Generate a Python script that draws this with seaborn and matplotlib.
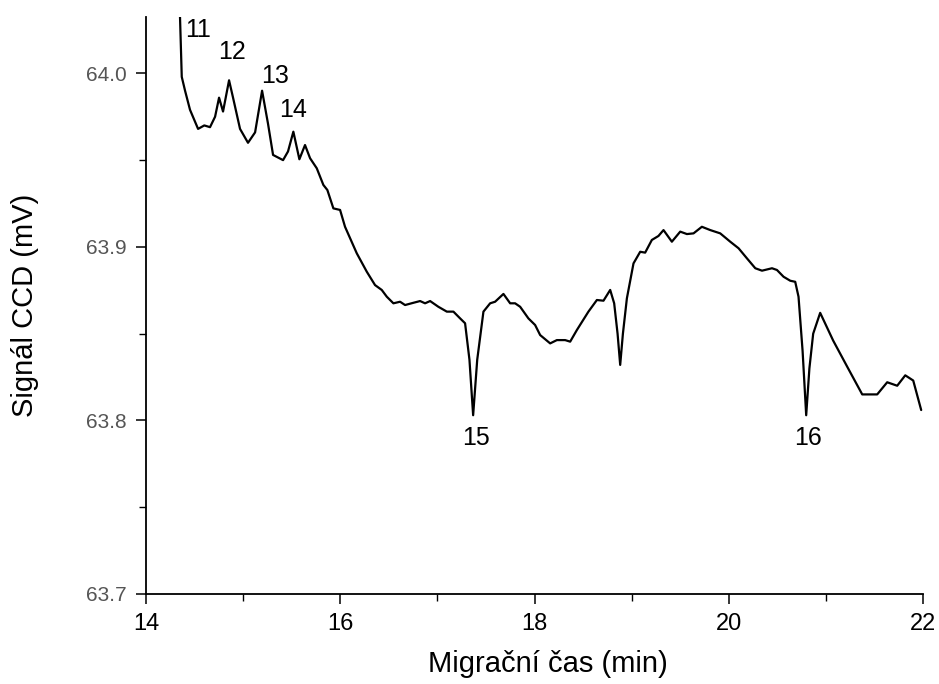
import matplotlib
matplotlib.use("Agg")
import matplotlib.pyplot as plt
import seaborn as sns
import pandas as pd
from matplotlib.ticker import MultipleLocator, FormatStrFormatter

# ---- data ----
time_min = [14.300, 14.350, 14.368, 14.402, 14.453, 14.536, 14.600, 14.659, 14.711, 14.752,
            14.793, 14.855, 14.896, 14.968, 15.050, 15.123, 15.195, 15.256, 15.308, 15.411,
            15.462, 15.517, 15.579, 15.637, 15.689, 15.758, 15.826, 15.867, 15.929, 15.998,
            16.049, 16.170, 16.273, 16.358, 16.427, 16.479, 16.547, 16.616, 16.667, 16.753,
            16.822, 16.873, 16.925, 17.010, 17.097, 17.165, 17.234, 17.285, 17.330, 17.368,
            17.410, 17.474, 17.543, 17.594, 17.680, 17.749, 17.800, 17.852, 17.937, 18.006,
            18.058, 18.161, 18.230, 18.315, 18.367, 18.436, 18.555, 18.642, 18.710, 18.779,
            18.820, 18.855, 18.882, 18.910, 18.951, 19.019, 19.088, 19.139, 19.208, 19.276,
            19.328, 19.414, 19.500, 19.569, 19.637, 19.723, 19.809, 19.912, 20.015, 20.101,
            20.187, 20.273, 20.342, 20.445, 20.496, 20.564, 20.633, 20.684, 20.718, 20.760,
            20.797, 20.830, 20.869, 20.941, 21.075, 21.219, 21.374, 21.528, 21.631, 21.734,
            21.817, 21.899, 21.981]
signal_mv = [64.0500, 64.0325, 63.9980, 63.9900, 63.9790, 63.9680, 63.9700, 63.9690, 63.9750, 63.9860,
             63.9780, 63.9960, 63.9860, 63.9680, 63.9600, 63.9660, 63.9900, 63.9710, 63.9530, 63.9500,
             63.9550, 63.9664, 63.9505, 63.9587, 63.9511, 63.9453, 63.9357, 63.9328, 63.9222, 63.9213,
             63.9116, 63.8963, 63.8857, 63.8780, 63.8752, 63.8713, 63.8675, 63.8684, 63.8665, 63.8678,
             63.8688, 63.8675, 63.8688, 63.8655, 63.8627, 63.8627, 63.8588, 63.8560, 63.8350, 63.8030,
             63.8350, 63.8627, 63.8675, 63.8684, 63.8729, 63.8675, 63.8675, 63.8655, 63.8588, 63.8550,
             63.8492, 63.8444, 63.8463, 63.8463, 63.8454, 63.8521, 63.8627, 63.8694, 63.8690, 63.8752,
             63.8675, 63.8500, 63.8320, 63.8500, 63.8704, 63.8905, 63.8972, 63.8967, 63.9040, 63.9063,
             63.9097, 63.9030, 63.9088, 63.9074, 63.9078, 63.9116, 63.9097, 63.9078, 63.9030, 63.8992,
             63.8934, 63.8877, 63.8863, 63.8877, 63.8867, 63.8828, 63.8805, 63.8799, 63.8713, 63.8400,
             63.8030, 63.8300, 63.8500, 63.8620, 63.8460, 63.8310, 63.8150, 63.8150, 63.8220, 63.8200,
             63.8260, 63.8230, 63.8060]

peak_labels = ["11", "12", "13", "14", "15", "16"]
peak_label_x = [14.535, 14.886, 15.329, 15.514, 17.399, 20.818]
peak_label_y = [64.025, 64.0125, 63.9986, 63.979, 63.7899, 63.7899]

x_ticks = [14, 16, 18, 20, 22]
y_ticks = [63.7, 63.8, 63.9, 64.0]

df = pd.DataFrame({"time": time_min, "signal": signal_mv})

sns.set_style("ticks")
plt.rcParams["font.family"] = ["Liberation Sans", "DejaVu Sans"]

fig = plt.figure(figsize=(9.39, 6.84), dpi=100)
ax = fig.add_axes([0.1555, 0.1316, 0.8275, 0.8436])

sns.lineplot(data=df, x="time", y="signal", ax=ax, color="black", linewidth=1.6,
             sort=False, estimator=None)

ax.set_xlim(14, 22)
ax.set_ylim(63.7, 64.0325)
ax.set_xticks(x_ticks)
ax.set_yticks(y_ticks)
ax.xaxis.set_minor_locator(MultipleLocator(1))
ax.yaxis.set_minor_locator(MultipleLocator(0.05))
ax.yaxis.set_major_formatter(FormatStrFormatter("%.1f"))

sns.despine(ax=ax)
for s in ["left", "bottom"]:
    ax.spines[s].set_linewidth(1.3)
    ax.spines[s].set_color("black")

ax.tick_params(axis="both", which="major", direction="out", length=7, width=1.1, color="black")
ax.tick_params(axis="both", which="minor", direction="out", length=5, width=1.0, color="black")
ax.tick_params(axis="x", which="major", labelsize=17, pad=7, labelcolor="black")
ax.tick_params(axis="y", which="major", labelsize=15, pad=7, labelcolor="#555555")

ax.set_xlabel("Migrační čas (min)", fontsize=21, color="black")
ax.set_ylabel("Signál CCD (mV)", fontsize=21, color="black")
ax.xaxis.set_label_coords(0.517, -0.121)
ax.xaxis.label.set_va("center")
ax.yaxis.set_label_coords(-0.156, 0.50)
ax.yaxis.label.set_va("center")

for lab, lx, ly in zip(peak_labels, peak_label_x, peak_label_y):
    ax.text(lx, ly, lab, fontsize=18, ha="center", va="center", color="black")

ax.grid(False)
fig.savefig("out.png", dpi=100, facecolor="white")
